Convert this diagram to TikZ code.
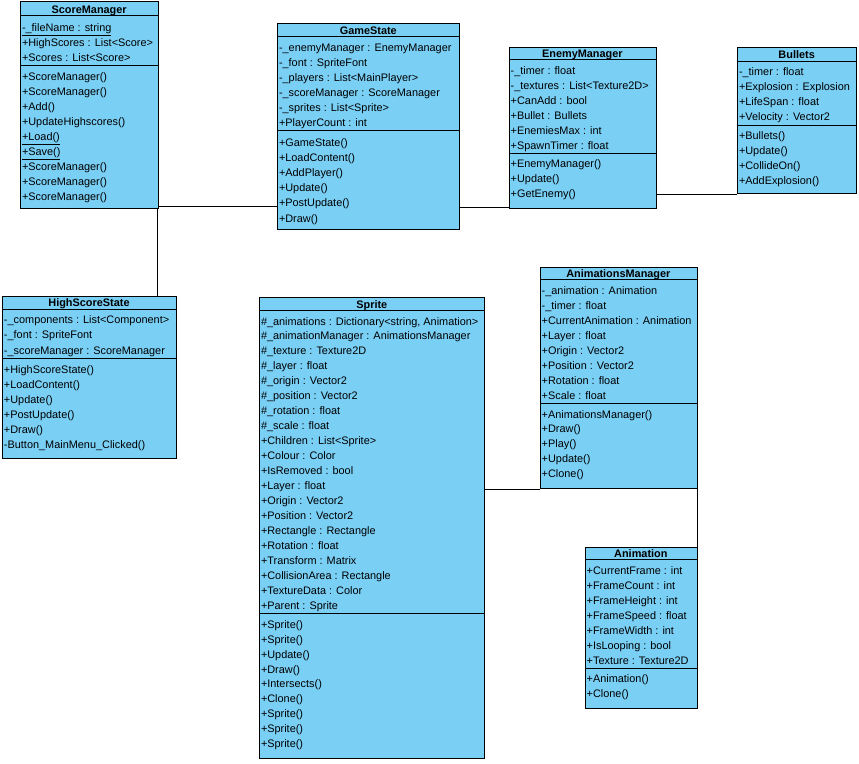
\documentclass[tikz,border=0pt]{standalone}
\usepackage{fontspec}
\setmainfont{Liberation Sans}
\definecolor{clsfill}{RGB}{122,207,245}
\tikzset{
  clsbox/.style={draw=black, fill=clsfill, line width=0.9pt, inner sep=0pt, anchor=north west},
  sepline/.style={draw=black, line width=0.9pt},
  conn/.style={draw=black, line width=0.9pt},
  row/.style={anchor=base west, inner sep=0pt, font=\fontsize{10.9}{13}\selectfont},
  clstitle/.style={anchor=base, inner sep=0pt, font=\fontsize{10.9}{13}\selectfont\bfseries}
}
\newcommand\clsrows[5]{%
  \foreach \t [count=\i from 0] in {#5} {\node[row] (#1\i) at (#2, {#3+#4*\i}) {\t};}%
}
% \mkclass{name}{L}{T}{R}{B}{H}{S}{title}
\newcommand\mkclass[8]{%
  \node[clsbox, minimum width={(#4-#2)*1pt}, minimum height={(#5-#3)*1pt}] (#1) at (#2,#3) {};
  \draw[sepline] (#2,#6) -- (#4,#6);
  \draw[sepline] (#2,#7) -- (#4,#7);
  \node[clstitle] (#1-t) at ({(#2+#4)/2}, {#6-2.2}) {#8};
}
\begin{document}
\begin{tikzpicture}[x=1pt,y=-1pt]
\fill[white] (0,0) rectangle (859,763);
\useasboundingbox (0,0) rectangle (859,763);

% ScoreManager
\mkclass{sm}{20.3}{1}{158}{207.5}{15.7}{65.3}{ScoreManager}
\clsrows{sm-a}{21.8}{31.2}{15}{\underline{-\_fileName : string}, +HighScores : List<Score>, +Scores : List<Score>}
\clsrows{sm-m}{21.8}{80.7}{15}{+ScoreManager(), +ScoreManager(), +Add(), +UpdateHighscores(), \underline{+Load()}, \underline{+Save()}, +ScoreManager(), +ScoreManager(), +ScoreManager()}

% GameState
\mkclass{gs}{277.3}{23.3}{459.3}{229.3}{36.7}{130.7}{GameState}
\clsrows{gs-a}{278.8}{51.3}{15}{-\_enemyManager : EnemyManager, -\_font : SpriteFont, -\_players : List<MainPlayer>, -\_scoreManager : ScoreManager, -\_sprites : List<Sprite>, +PlayerCount : int}
\clsrows{gs-m}{278.8}{146.5}{15.1}{+GameState(), +LoadContent(), +AddPlayer(), +Update(), +PostUpdate(), +Draw()}

% EnemyManager
\mkclass{em}{509}{46.7}{655.7}{208.3}{59.3}{153.3}{EnemyManager}
\clsrows{em-a}{510.5}{74}{15}{-\_timer : float, -\_textures : List<Texture2D>, +CanAdd : bool, +Bullet : Bullets, +EnemiesMax : int, +SpawnTimer : float}
\clsrows{em-m}{510.5}{167.5}{15}{+EnemyManager(), +Update(), +GetEnemy()}

% Bullets
\mkclass{bu}{737.3}{46.7}{856}{193.3}{61}{125}{Bullets}
\clsrows{bu-a}{738.8}{75.7}{15}{-\_timer : float, +Explosion : Explosion, +LifeSpan : float, +Velocity : Vector2}
\clsrows{bu-m}{738.8}{139.3}{15.1}{+Bullets(), +Update(), +CollideOn(), +AddExplosion()}

% HighScoreState
\mkclass{hs}{2.3}{295.7}{175.7}{458.3}{309}{358.3}{HighScoreState}
\clsrows{hs-a}{3.8}{323}{15.5}{-\_components : List<Component>, -\_font : SpriteFont, -\_scoreManager : ScoreManager}
\clsrows{hs-m}{3.8}{373.5}{15}{+HighScoreState(), +LoadContent(), +Update(), +PostUpdate(), +Draw(), -Button\_MainMenu\_Clicked()}

% Sprite
\mkclass{sp}{259.3}{296.7}{484.3}{757.7}{310.7}{613.3}{Sprite}
\clsrows{sp-a}{260.8}{325}{14.95}{{\#\_animations : Dictionary<string, Animation>}, \#\_animationManager : AnimationsManager, \#\_texture : Texture2D, \#\_layer : float, \#\_origin : Vector2, \#\_position : Vector2, \#\_rotation : float, \#\_scale : float, +Children : List<Sprite>, +Colour : Color, +IsRemoved : bool, +Layer : float, +Origin : Vector2, +Position : Vector2, +Rectangle : Rectangle, +Rotation : float, +Transform : Matrix, +CollisionArea : Rectangle, +TextureData : Color, +Parent : Sprite}
\clsrows{sp-m}{260.8}{628.3}{14.9}{+Sprite(), +Sprite(), +Update(), +Draw(), +Intersects(), +Clone(), +Sprite(), +Sprite(), +Sprite()}

% AnimationsManager
\mkclass{am}{540}{266.7}{696.7}{488.3}{279.3}{403.3}{AnimationsManager}
\clsrows{am-a}{541.5}{294.7}{14.9}{-\_animation : Animation, -\_timer : float, +CurrentAnimation : Animation, +Layer : float, +Origin : Vector2, +Position : Vector2, +Rotation : float, +Scale : float}
\clsrows{am-m}{541.5}{418}{14.9}{+AnimationsManager(), +Draw(), +Play(), +Update(), +Clone()}

% Animation
\mkclass{an}{585}{546.7}{696.7}{708.3}{559.3}{668.3}{Animation}
\clsrows{an-a}{586.5}{574}{15}{+CurrentFrame : int, +FrameCount : int, +FrameHeight : int, +FrameSpeed : float, +FrameWidth : int, +IsLooping : bool, +Texture : Texture2D}
\clsrows{an-m}{586.5}{682.3}{15}{+Animation(), +Clone()}

% connectors
\coordinate (y1) at (0,206);
\coordinate (x2) at (157.3,0);
\coordinate (y3) at (0,207);
\draw[conn] (sm.east |- y1) -- (gs.west |- y1);
\draw[conn] (x2 |- sm.south) -- (x2 |- hs.north);
\draw[conn] (gs.east |- y3) -- (em.west |- y3);
\draw[conn] (em.east |- bu.south) -- (bu.south west);
\draw[conn] (sp.east |- am.south) -- (am.south west);
\draw[conn] (am.south east) -- (an.north east);
\end{tikzpicture}
\end{document}
